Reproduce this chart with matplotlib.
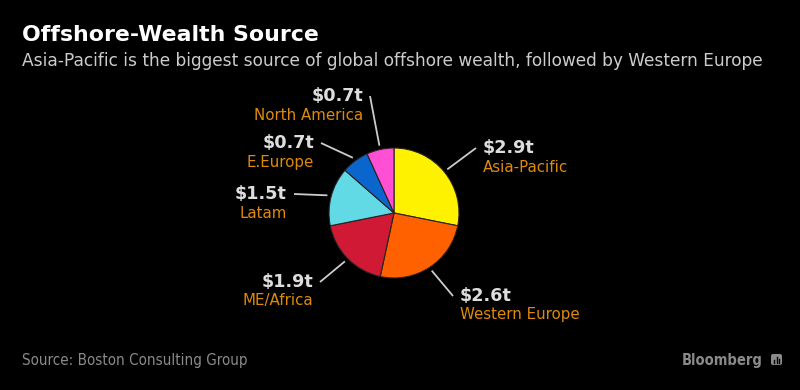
import numpy as np
import matplotlib
matplotlib.use("Agg")
import matplotlib.pyplot as plt
from matplotlib.patches import FancyBboxPatch

# data, clockwise from 12 o'clock
regions = ["Asia-Pacific", "Western Europe", "ME/Africa", "Latam", "E.Europe", "North America"]
wealth = [2.9, 2.6, 1.9, 1.5, 0.7, 0.7]  # trillions USD
colors = ["#FFF200", "#FF6000", "#D01A35", "#62DAE5", "#0A66CC", "#FF4FD4"]

# label anchors in pixels (x, y of value line) and side
label_pos = [(483, 148, "left"), (460, 296, "left"), (313, 282, "right"),
             (287, 194, "right"), (314, 143, "right"), (363, 96, "right")]

W, H = 800, 390
cx, cy, r = 394, 213, 65

fig = plt.figure(figsize=(W / 100, H / 100), dpi=100, facecolor="black")

# overlay axes in pixel coords for text and leader lines
ov = fig.add_axes([0, 0, 1, 1])
ov.set_xlim(0, W)
ov.set_ylim(H, 0)
ov.axis("off")
ov.patch.set_alpha(0)

pax = fig.add_axes([(cx - r) / W, (H - cy - r) / H, 2 * r / W, 2 * r / H])
pax.set_facecolor("black")
wedges, _ = pax.pie(wealth, colors=colors, startangle=90, counterclock=False,
                    wedgeprops=dict(edgecolor="#2a2222", linewidth=0.8))
pax.set_xlim(-1, 1)
pax.set_ylim(-1, 1)
pax.set_aspect("equal")
pax.axis("off")

cond = dict(family="DejaVu Sans", fontstretch="condensed")

for w, name, val, (lx, ly, ha) in zip(wedges, regions, wealth, label_pos):
    mid = np.deg2rad((w.theta1 + w.theta2) / 2)
    x0 = cx + 1.06 * r * np.cos(mid)
    y0 = cy - 1.06 * r * np.sin(mid)
    x1 = lx - 7 if ha == "left" else lx + 7
    ov.plot([x0, x1], [y0, ly], color="#CCCCCC", lw=1.3, solid_capstyle="butt")
    ov.text(lx, ly, f"${val}t", ha=ha, va="center", color="#DDDDDD",
            fontsize=12.7, fontweight="bold", family="DejaVu Sans")
    ov.text(lx, ly + 19, name, ha=ha, va="center", color="#E08A0A",
            fontsize=10.8, family="DejaVu Sans")

ov.text(22, 35, "Offshore-Wealth Source", ha="left", va="center", color="white",
        fontsize=15.8, fontweight="bold", family="DejaVu Sans")
ov.text(22, 61, "Asia-Pacific is the biggest source of global offshore wealth, followed by Western Europe",
        ha="left", va="center", color="#CCCCCC", fontsize=12.25, family="DejaVu Sans")
ov.text(22, 361, "Source: Boston Consulting Group", ha="left", va="center",
        color="#8A8A8A", fontsize=10.9, **cond)
ov.text(763, 360, "Bloomberg", ha="right", va="center", color="#8A8A8A",
        fontsize=10.5, fontweight="bold", **cond)

# small Bloomberg badge
ov.add_patch(FancyBboxPatch((771, 354), 11, 11, boxstyle="round,pad=0,rounding_size=2",
                            fc="#8A8A8A", ec="none"))
for bx, bh in zip([774, 776.5, 779], [3, 6, 4]):
    ov.plot([bx, bx], [363, 363 - bh], color="black", lw=1)

fig.savefig("out.png", dpi=100, facecolor="black")
